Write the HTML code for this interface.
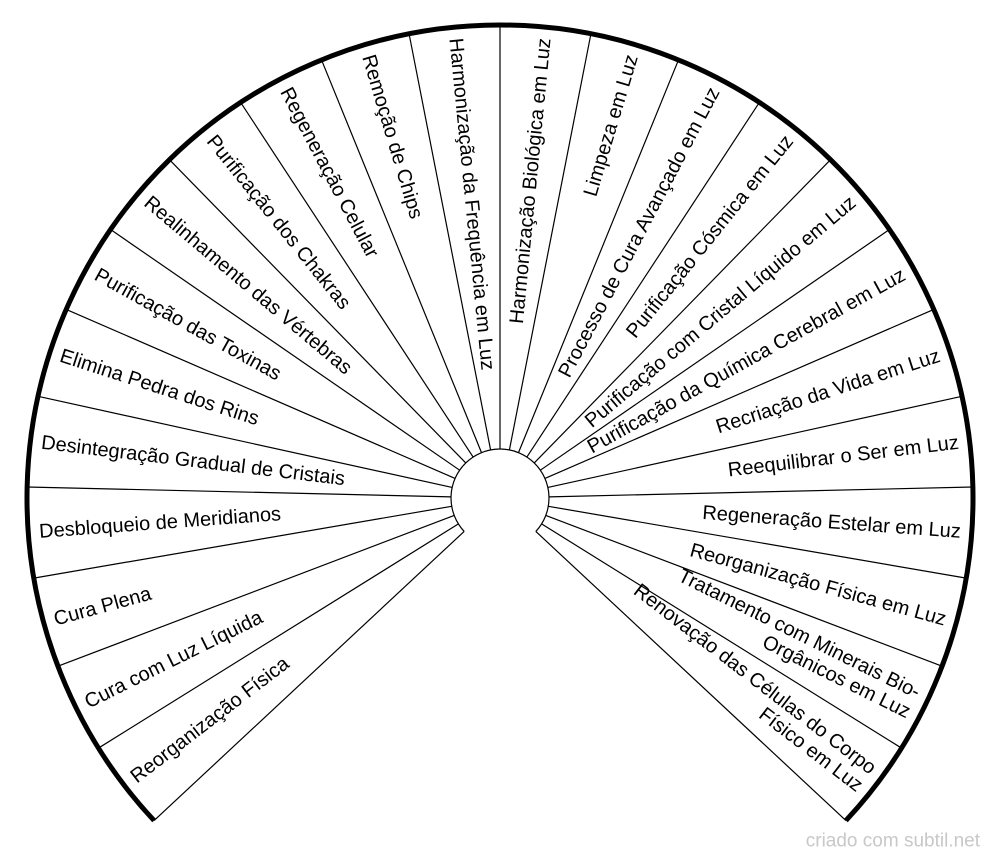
<!DOCTYPE html>
<html><head><meta charset="utf-8"><style>
html,body{margin:0;padding:0;background:#fff;}
svg{display:block;}
text{font-family:"Liberation Sans",sans-serif;font-size:20px;fill:#000;dominant-baseline:central;}
</style></head><body>
<svg width="1000" height="861" viewBox="0 0 1000 861" xmlns="http://www.w3.org/2000/svg">
<g transform="translate(500,498)">
<g stroke="#000" stroke-width="1.2">
<line x1="0" y1="-49" x2="0" y2="-473" transform="rotate(-133)"/>
<line x1="0" y1="-49" x2="0" y2="-473" transform="rotate(-121.917)"/>
<line x1="0" y1="-49" x2="0" y2="-473" transform="rotate(-110.833)"/>
<line x1="0" y1="-49" x2="0" y2="-473" transform="rotate(-99.75)"/>
<line x1="0" y1="-49" x2="0" y2="-473" transform="rotate(-88.667)"/>
<line x1="0" y1="-49" x2="0" y2="-473" transform="rotate(-77.583)"/>
<line x1="0" y1="-49" x2="0" y2="-473" transform="rotate(-66.5)"/>
<line x1="0" y1="-49" x2="0" y2="-473" transform="rotate(-55.417)"/>
<line x1="0" y1="-49" x2="0" y2="-473" transform="rotate(-44.333)"/>
<line x1="0" y1="-49" x2="0" y2="-473" transform="rotate(-33.25)"/>
<line x1="0" y1="-49" x2="0" y2="-473" transform="rotate(-22.167)"/>
<line x1="0" y1="-49" x2="0" y2="-473" transform="rotate(-11.083)"/>
<line x1="0" y1="-49" x2="0" y2="-473" transform="rotate(0)"/>
<line x1="0" y1="-49" x2="0" y2="-473" transform="rotate(11.083)"/>
<line x1="0" y1="-49" x2="0" y2="-473" transform="rotate(22.167)"/>
<line x1="0" y1="-49" x2="0" y2="-473" transform="rotate(33.25)"/>
<line x1="0" y1="-49" x2="0" y2="-473" transform="rotate(44.333)"/>
<line x1="0" y1="-49" x2="0" y2="-473" transform="rotate(55.417)"/>
<line x1="0" y1="-49" x2="0" y2="-473" transform="rotate(66.5)"/>
<line x1="0" y1="-49" x2="0" y2="-473" transform="rotate(77.583)"/>
<line x1="0" y1="-49" x2="0" y2="-473" transform="rotate(88.667)"/>
<line x1="0" y1="-49" x2="0" y2="-473" transform="rotate(99.75)"/>
<line x1="0" y1="-49" x2="0" y2="-473" transform="rotate(110.833)"/>
<line x1="0" y1="-49" x2="0" y2="-473" transform="rotate(121.917)"/>
<line x1="0" y1="-49" x2="0" y2="-473" transform="rotate(133)"/>
</g>
<path d="M -345.9 322.6 A 473 473 0 1 1 345.9 322.6" fill="none" stroke="#000" stroke-width="5"/>
<path d="M -35.84 33.42 A 49 49 0 1 1 35.84 33.42" fill="none" stroke="#000" stroke-width="1.2"/>

<text x="-462" text-anchor="start" transform="rotate(-37.46)">Reorganização Física</text>
<text x="-462" text-anchor="start" transform="rotate(-26.375)">Cura com Luz Líquida</text>
<text x="-462" text-anchor="start" transform="rotate(-15.29)">Cura Plena</text>
<text x="-462" text-anchor="start" transform="rotate(-4.21)">Desbloqueio de Meridianos</text>
<text x="-462" text-anchor="start" transform="rotate(6.875)">Desintegração Gradual de Cristais</text>
<text x="-462" text-anchor="start" transform="rotate(17.96)">Elimina Pedra dos Rins</text>
<text x="-462" text-anchor="start" transform="rotate(29.04)">Purificação das Toxinas</text>
<text x="-462" text-anchor="start" transform="rotate(40.125)">Realinhamento das Vértebras</text>
<text x="-462" text-anchor="start" transform="rotate(51.21)">Purificação dos Chakras</text>
<text x="-462" text-anchor="start" transform="rotate(62.29)">Regeneração Celular</text>
<text x="-462" text-anchor="start" transform="rotate(73.375)">Remoção de Chips</text>
<text x="-462" text-anchor="start" transform="rotate(84.46)">Harmonização da Frequência em Luz</text>

<text x="462" text-anchor="end" transform="rotate(-84.46)">Harmonização Biológica em Luz</text>
<text x="462" text-anchor="end" transform="rotate(-73.375)">Limpeza em Luz</text>
<text x="462" text-anchor="end" transform="rotate(-62.29)">Processo de Cura Avançado em Luz</text>
<text x="462" text-anchor="end" transform="rotate(-51.21)">Purificação Cósmica em Luz</text>
<text x="462" text-anchor="end" transform="rotate(-40.125)">Purificação com Cristal Líquido em Luz</text>
<text x="462" text-anchor="end" transform="rotate(-29.04)">Purificação da Química Cerebral em Luz</text>
<text x="462" text-anchor="end" transform="rotate(-17.96)">Recriação da Vida em Luz</text>
<text x="462" text-anchor="end" transform="rotate(-6.875)">Reequilibrar o Ser em Luz</text>
<text x="462" text-anchor="end" transform="rotate(4.21)">Regeneração Estelar em Luz</text>
<text x="462" text-anchor="end" transform="rotate(15.29)">Reorganização Física em Luz</text>
<text text-anchor="end" transform="rotate(26.375)"><tspan x="462" y="-11">Tratamento com Minerais Bio-</tspan><tspan x="462" y="11">Orgânicos em Luz</tspan></text>
<text text-anchor="end" transform="rotate(37.46)"><tspan x="462" y="-11">Renovação das Células do Corpo</tspan><tspan x="462" y="11">Físico em Luz</tspan></text>
</g>
<text x="980" y="841" text-anchor="end" style="font-size:19px;fill:#c8c8c8;">criado com subtil.net</text>
</svg>
</body></html>
